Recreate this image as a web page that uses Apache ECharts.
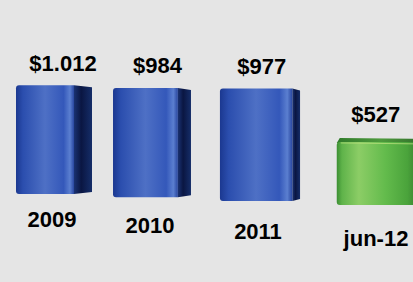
<!DOCTYPE html>
<html>
<head>
<meta charset="utf-8">
<script src="https://cdn.jsdelivr.net/npm/echarts@6/dist/echarts.min.js"></script>
<style>
  html, body { margin: 0; background: #e5e5e5; }
  #chart { width: 413px; height: 282px; }
</style>
</head>
<body>
<div id="chart"></div>
<script>
// data
const categories = ['2009', '2010', '2011', 'jun-12'];
const values = [1012, 984, 977, 527];
const valueLabels = ['$1.012', '$984', '$977', '$527'];

// the original is drawn in perspective: bars drift down, spread and grow to the right
const SLANT = 0.034;
const SPREAD = 0.000578;
const GROW = 0.00035;

const blueFront = [
  { offset: 0, color: '#1b3890' },
  { offset: 0.12, color: '#2b4eae' },
  { offset: 0.5, color: '#4e70c5' },
  { offset: 0.82, color: '#3458ba' },
  { offset: 0.93, color: '#5b7fd0' },
  { offset: 1, color: '#28469f' }
];
const blueSide = [
  { offset: 0, color: '#1a3272' },
  { offset: 0.4, color: '#0a1642' },
  { offset: 1, color: '#152d68' }
];
const greenFront = [
  { offset: 0, color: '#3c8f33' },
  { offset: 0.06, color: '#5fb34a' },
  { offset: 0.25, color: '#8ccd66' },
  { offset: 0.55, color: '#63bb4c' },
  { offset: 0.8, color: '#4aa33b' },
  { offset: 1, color: '#2c6626' }
];

function renderBar(params, api) {
  const i = api.value(0);
  const v = api.value(1);
  const first = api.coord([0, 0]);
  const base = api.coord([i, 0]);
  const top = api.coord([i, v]);
  const t0 = base[0] - first[0];
  const t = t0 + SPREAD * t0 * t0;
  const cx = first[0] + t;
  const bottom = base[1] + SLANT * t;
  const h = (base[1] - top[1]) * (1 + GROW * t);
  const w = 76 + 0.02 * t;
  const sw = Math.max(0, 18 - 0.05 * t);
  const fw = w - sw;
  const x = cx - w / 2;
  const y = bottom - h;
  const partial = i === categories.length - 1;

  const children = [];
  if (partial) {
    children.push({
      type: 'polygon',
      shape: { points: [[x, y + 1], [x + 3, y - 4], [x + w + 6, y - 3], [x + w + 6, y + 2]] },
      style: { fill: new echarts.graphic.LinearGradient(0, 0, 1, 0, [
        { offset: 0, color: '#2f7a2a' }, { offset: 0.5, color: '#4d9a3c' }, { offset: 1, color: '#2f6a29' }
      ]) }
    });
    children.push({
      type: 'rect',
      shape: { x: x, y: y, width: w + 6, height: h, r: [3, 0, 0, 3] },
      style: { fill: new echarts.graphic.LinearGradient(0, 0, 1, 0, greenFront) }
    });
    children.push({
      type: 'line',
      shape: { x1: x + 4, y1: y + 1, x2: x + w, y2: y + 2 },
      style: { stroke: '#b6e07a', lineWidth: 1, opacity: 0.8 }
    });
  } else {
    children.push({
      type: 'rect',
      shape: { x: x, y: y, width: fw, height: h, r: [3, 0, 0, 3] },
      style: { fill: new echarts.graphic.LinearGradient(0, 0, 1, 0, blueFront) }
    });
    children.push({
      type: 'polygon',
      shape: { points: [[x + fw, y], [x + w, y + 2], [x + w, bottom - 2], [x + fw, bottom]] },
      style: { fill: new echarts.graphic.LinearGradient(0, 0, 1, 0, blueSide) }
    });
  }
  children.push({
    type: 'text',
    style: {
      text: valueLabels[i], x: cx + 9 - 0.035 * t, y: y - (partial ? 27 : 22),
      align: 'center', verticalAlign: 'middle',
      textAlign: 'center', textVerticalAlign: 'middle',
      font: 'bold 22px "Liberation Sans", Arial, sans-serif', fill: '#000'
    }
  });
  children.push({
    type: 'text',
    style: {
      text: categories[i], x: cx - 2, y: bottom + 25.5 + 0.026 * t,
      align: 'center', verticalAlign: 'middle',
      textAlign: 'center', textVerticalAlign: 'middle',
      font: 'bold 22px "Liberation Sans", Arial, sans-serif', fill: '#000'
    }
  });
  return { type: 'group', children: children };
}

const chart = echarts.init(document.getElementById('chart'), null, { renderer: 'svg' });
chart.setOption({
  backgroundColor: '#e5e5e5',
  animation: false,
  grid: { left: 7.5, right: 33.5, top: 65, bottom: 88 },
  xAxis: { type: 'category', data: categories, show: false },
  yAxis: { type: 'value', min: 0, max: 1200, show: false },
  series: [{
    type: 'custom',
    clip: false,
    renderItem: renderBar,
    encode: { x: 0, y: 1 },
    data: values.map((v, i) => [i, v])
  }]
});
</script>
</body>
</html>
